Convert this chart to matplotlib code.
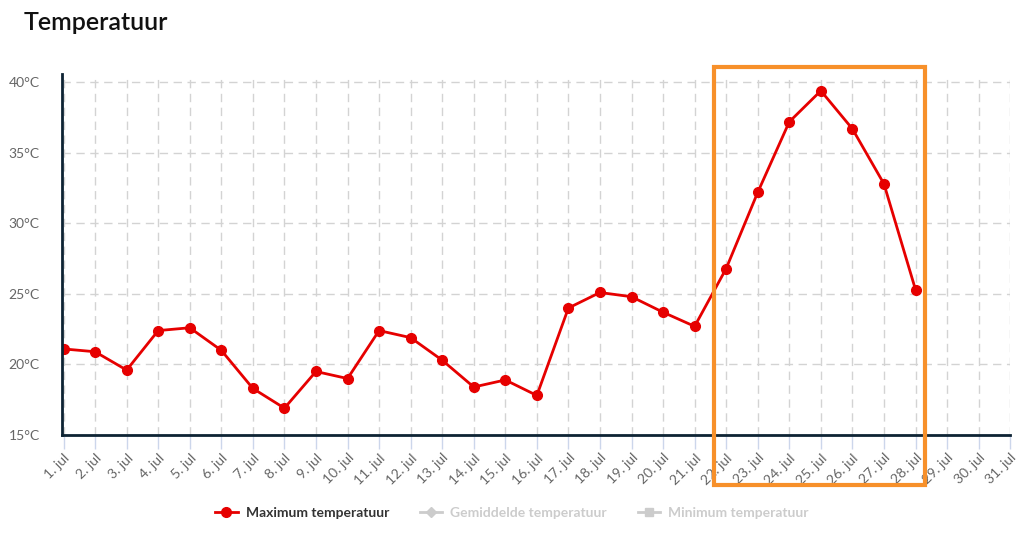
import matplotlib.pyplot as plt
from matplotlib.lines import Line2D
from matplotlib.patches import Rectangle

plt.rcParams["font.family"] = ["Lato", "DejaVu Sans"]

# July, max temperature per day (days 29-31 without data)
days = list(range(1, 32))
day_labels = [f"{d}. jul" for d in days]
max_days = list(range(1, 29))
max_temp = [21.1, 20.9, 19.6, 22.4, 22.6, 21.0, 18.3, 16.9, 19.5, 19.0,
            22.4, 21.9, 20.3, 18.4, 18.9, 17.8, 24.0, 25.1, 24.8, 23.7,
            22.7, 26.8, 32.2, 37.2, 39.4, 36.7, 32.8, 25.3]
y_ticks = [15, 20, 25, 30, 35, 40]
y_labels = [f"{t}°C" for t in y_ticks]

# highlighted heat-wave window (day range, temperature range)
box_days = (21.62, 28.3)
box_temp = (11.45, 41.05)

fig = plt.figure(figsize=(10.24, 5.39), dpi=100)
ax = fig.add_axes([0.0605, 0.193, 0.926, 0.670])

ax.plot(max_days, max_temp, color="#e60000", lw=2, marker="o",
        markersize=7, zorder=3)

ax.set_xlim(days[0] - 0.05, days[-1] - 0.05)
ax.set_ylim(15, 40.6)
ax.set_xticks(days)
ax.set_xticklabels(day_labels, rotation=45, ha="right",
                   rotation_mode="anchor", fontsize=10, color="#666666")
ax.set_yticks(y_ticks)
ax.set_yticklabels(y_labels, fontsize=10, color="#666666")

ax.grid(True, color="#d3d3d3", linestyle=(0, (6, 4)), lw=1, zorder=0)
ax.tick_params(axis="x", length=10, width=1, color="#ccd6eb", pad=2)
ax.tick_params(axis="y", length=0, pad=16)

for side in ("top", "right"):
    ax.spines[side].set_visible(False)
for side in ("left", "bottom"):
    ax.spines[side].set_color("#0d2333")
    ax.spines[side].set_linewidth(2)
    ax.spines[side].set_zorder(4)

ax.add_patch(Rectangle((box_days[0], box_temp[0]),
                       box_days[1] - box_days[0], box_temp[1] - box_temp[0],
                       fill=False, edgecolor="#f7902a", lw=3,
                       clip_on=False, zorder=5))

fig.text(0.0235, 0.958, "Temperatuur", fontsize=18, fontweight="semibold",
         color="#111111", va="center")

handles = [
    Line2D([], [], color="#e60000", lw=2, marker="o", markersize=7),
    Line2D([], [], color="#cccccc", lw=2, marker="D", markersize=5),
    Line2D([], [], color="#cccccc", lw=2, marker="s", markersize=6),
]
leg = fig.legend(handles, ["Maximum temperatuur", "Gemiddelde temperatuur",
                           "Minimum temperatuur"],
                 loc="center", bbox_to_anchor=(0.5, 0.048), ncol=3,
                 frameon=False, fontsize=10, handlelength=1.6,
                 columnspacing=2.2, handletextpad=0.6)
for i, txt in enumerate(leg.get_texts()):
    txt.set_fontweight("bold")
    txt.set_color("#333333" if i == 0 else "#cccccc")

fig.savefig("out.png", dpi=100)
